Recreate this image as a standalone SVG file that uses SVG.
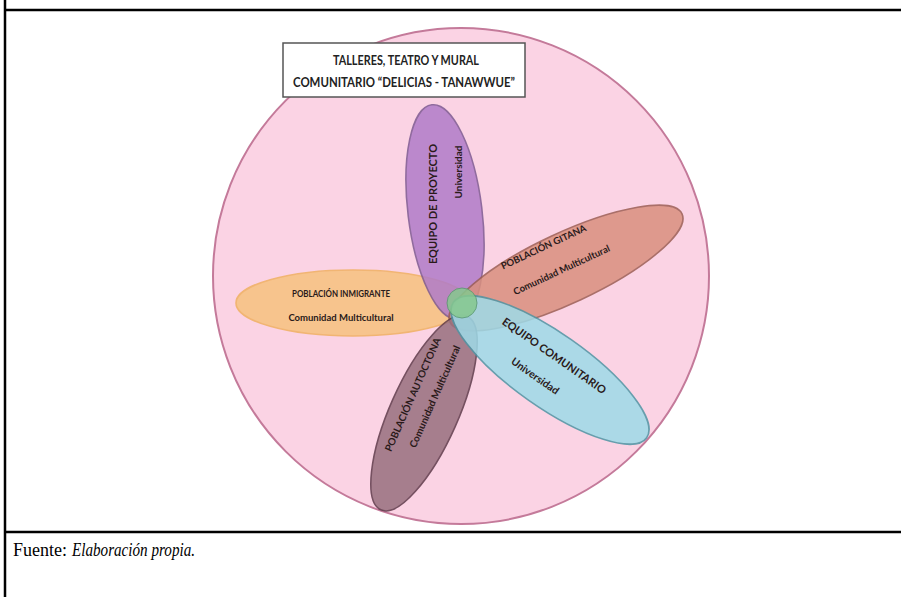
<svg xmlns="http://www.w3.org/2000/svg" width="901" height="597" viewBox="0 0 901 597">
<style>
.lbl{font-family:Lato,"Open Sans",sans-serif;font-weight:bold;fill:#2a1a1a;text-anchor:middle}
.ttl{font-family:Lato,"Open Sans",sans-serif;font-weight:bold;font-size:13px;fill:#222;text-anchor:middle}
.petal{stroke-width:1.6;opacity:0.85}
.rule{stroke:#000;stroke-width:2.5}
.foot{font-family:"Liberation Serif",serif;font-size:19px;fill:#000}
</style>
<rect width="901" height="597" fill="#fff"/>
<g id="table">
<line class="rule" x1="5" y1="0" x2="5" y2="597"/>
<line class="rule" x1="5" y1="10" x2="901" y2="10"/>
<line class="rule" x1="5" y1="532" x2="901" y2="532"/>
</g>
<g id="circle">
<circle cx="461" cy="276" r="248" fill="#fbd3e4" stroke="#c47a9a" stroke-width="2"/>
</g>
<g id="title">
<rect x="283" y="43" width="242" height="54" fill="#fff" stroke="#555" stroke-width="1.5"/>
<text class="ttl" x="406" y="65" textLength="146" lengthAdjust="spacingAndGlyphs">TALLERES, TEATRO Y MURAL</text>
<text class="ttl" x="404" y="87" textLength="222" lengthAdjust="spacingAndGlyphs">COMUNITARIO “DELICIAS - TANAWWUE”</text>
</g>
<g id="inmigrante">
<ellipse class="petal" cx="353" cy="303" rx="117" ry="33" fill="#f7c27e" stroke="#f0b060"/>
<text class="lbl" x="341" y="297" font-size="9" textLength="98" lengthAdjust="spacingAndGlyphs">POBLACIÓN INMIGRANTE</text>
<text class="lbl" x="341" y="321" font-size="9.5">Comunidad Multicultural</text>
</g>
<g id="proyecto">
<ellipse class="petal" cx="445" cy="212" rx="37" ry="108" transform="rotate(-7 445 212)" fill="#b07cc8" stroke="#7e5a92"/>
<text class="lbl" font-size="11" transform="translate(437 204) rotate(-90)">EQUIPO DE PROYECTO</text>
<text class="lbl" font-size="10" transform="translate(462 172) rotate(-90)">Universidad</text>
</g>
<g id="gitana">
<ellipse class="petal" cx="566" cy="268" rx="128" ry="35" transform="rotate(-25 566 268)" fill="#d9907e" stroke="#9c5e54"/>
<text class="lbl" font-size="9.5" transform="translate(545 250) rotate(-25)">POBLACIÓN GITANA</text>
<text class="lbl" font-size="9.5" transform="translate(563 273) rotate(-25)">Comunidad Multicultural</text>
</g>
<g id="autoctona">
<ellipse class="petal" cx="424" cy="413" rx="106" ry="34" transform="rotate(-66 424 413)" fill="#98707e" stroke="#5e3a4a"/>
<text class="lbl" font-size="10" transform="translate(416 396) rotate(-66)">POBLACIÓN AUTOCTONA</text>
<text class="lbl" font-size="10" transform="translate(438 398) rotate(-66)">Comunidad Multicultural</text>
</g>
<g id="comunitario">
<ellipse class="petal" cx="550" cy="370" rx="118" ry="37" transform="rotate(35 550 370)" fill="#9edbe8" stroke="#4e95a4"/>
<text class="lbl" font-size="11" transform="translate(552 359) rotate(35)">EQUIPO COMUNITARIO</text>
<text class="lbl" font-size="10.5" transform="translate(533 379) rotate(35)">Universidad</text>
</g>
<g id="center">
<circle cx="462" cy="303" r="15" fill="#86c88e" stroke="#5a9a70" stroke-width="1" opacity="0.85"/>
</g>
<g id="footer">
<text class="foot" x="13" y="556" textLength="54" lengthAdjust="spacingAndGlyphs">Fuente:</text>
<text class="foot" x="72" y="556" font-style="italic" textLength="123" lengthAdjust="spacingAndGlyphs">Elaboración propia.</text>
</g>
</svg>
